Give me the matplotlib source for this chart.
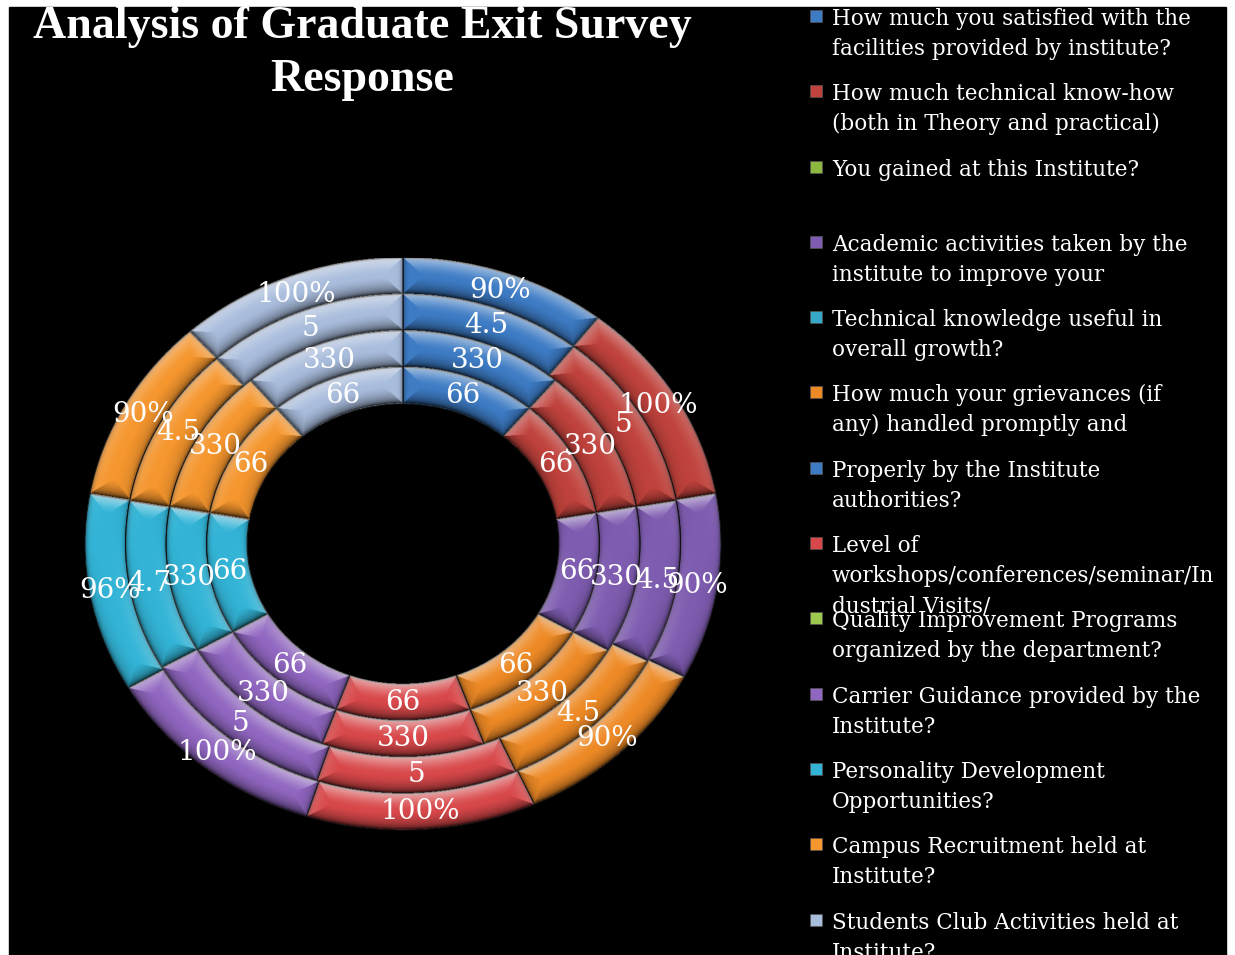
import numpy as np
import matplotlib.pyplot as plt
from matplotlib.patches import Rectangle

# survey questions (legend text, wrapped as printed)
questions = [
    "How much you satisfied with the\nfacilities provided by institute?",
    "How much technical know-how\n(both in Theory and practical)",
    "You gained at this Institute?",
    "Academic activities taken by the\ninstitute to improve your",
    "Technical knowledge useful in\noverall growth?",
    "How much your grievances (if\nany) handled promptly and",
    "Properly by the Institute\nauthorities?",
    "Level of\nworkshops/conferences/seminar/In\ndustrial Visits/",
    "Quality Improvement Programs\norganized by the department?",
    "Carrier Guidance provided by the\nInstitute?",
    "Personality Development\nOpportunities?",
    "Campus Recruitment held at\nInstitute?",
    "Students Club Activities held at\nInstitute?",
]

# one ring per series, outermost first
pct_score = [90, 100, 0, 90, 0, 90, 0, 100, 0, 100, 96, 90, 100]
avg_score = [4.5, 5, 0, 4.5, 0, 4.5, 0, 5, 0, 5, 4.7, 4.5, 5]
responses = [330, 330, 0, 330, 0, 330, 0, 330, 0, 330, 330, 330, 330]
students = [66, 66, 0, 66, 0, 66, 0, 66, 0, 66, 66, 66, 66]

colors = ['#3d7bc4', '#c0423c', '#8cb840', '#7e5cb0', '#38a8c8', '#ee8a26',
          '#3d7bc4', '#d8484a', '#9cc850', '#9066c0', '#33b4d6', '#f5962e',
          '#a8bcdc']

W, H = 1235, 955
fig = plt.figure(figsize=(W / 100, H / 100), dpi=100, facecolor='white')
fig.add_artist(Rectangle((9 / W, 0), (1226 - 9) / W, (H - 7) / H,
                         transform=fig.transFigure, color='black', zorder=0))

# doughnut is slightly wider than tall
cx, cy, rx, ry = 403, 544, 318, 286
ax = fig.add_axes([(cx - rx) / W, (H - cy - ry) / H, 2 * rx / W, 2 * ry / H])

rings = [pct_score, avg_score, responses, students]
hole = 0.49
ring_w = (1 - hole) / len(rings)
half = ring_w / 2

bounds = []
for i, vals in enumerate(rings):
    radius = 1 - i * ring_w
    wedges, _ = ax.pie(vals, radius=radius, colors=colors, startangle=90,
                       counterclock=False,
                       wedgeprops=dict(width=ring_w, edgecolor='#151515',
                                       linewidth=0.7))
    bounds.append(np.array([w.theta1 for w, v in zip(wedges, vals) if v]))
    for w, v in zip(wedges, vals):
        if v == 0:
            continue
        mid = np.deg2rad((w.theta1 + w.theta2) / 2)
        r = w.r - half
        txt = f"{v}%" if i == 0 else f"{v:g}"
        ax.text(r * np.cos(mid), r * np.sin(mid), txt, ha='center',
                va='center', color='white', fontsize=20,
                family='DejaVu Serif', zorder=5)

# soft round bevel on every segment, lit from above
gx, gy = np.meshgrid(np.linspace(-1, 1, 1000), np.linspace(-1, 1, 1000))
rr = np.hypot(gx, gy) + 1e-9
phi = np.degrees(np.arctan2(gy, gx)) % 360
pos = (rr - hole) / ring_w
inside = (pos >= 0) & (pos < len(rings))
k = np.clip(np.floor(pos), 0, len(rings) - 1).astype(int)
s = 2 * (pos - np.floor(pos)) - 1

dr = (1 - np.abs(s)) * half
dir_r = np.sign(s) * gy / rr

dt = np.full(gx.shape, 9.0)
dir_t = np.zeros(gx.shape)
for i, b in enumerate(bounds):
    m = inside & (len(rings) - 1 - k == i)
    delta = (b[None, :] - phi[m][:, None] + 180) % 360 - 180
    j = np.argmin(np.abs(delta), axis=1)
    sd = delta[np.arange(len(j)), j]
    dt[m] = rr[m] * np.abs(np.deg2rad(sd))
    dir_t[m] = np.sign(sd) * np.cos(np.deg2rad(phi[m]))

use_t = dt < dr
d = np.where(use_t, dt, dr)
u = np.clip(d / half, 0, 1)
tilt = (1 - u) ** 1.6
light = tilt * np.where(use_t, dir_t, dir_r)
groove = (1 - u) ** 10

hi = np.zeros(gx.shape + (4,))
hi[..., :3] = 1
hi[..., 3] = np.where(inside, np.clip(light, 0, None) * 0.6, 0)
lo = np.zeros(gx.shape + (4,))
lo[..., 3] = np.where(inside, np.clip(np.clip(-light, 0, None) * 0.5
                                      + groove * 0.45, 0, 0.85), 0)
for layer in (lo, hi):
    ax.imshow(layer, extent=(-1, 1, -1, 1), origin='lower', aspect='auto',
              zorder=3, interpolation='bilinear')

ax.set_aspect('auto')
ax.set_xlim(-1, 1)
ax.set_ylim(-1, 1)
ax.set_axis_off()

fig.text(362 / W, 1 - 38 / H, "Analysis of Graduate Exit Survey", ha='center',
         va='baseline', color='white', fontsize=33, fontweight='bold',
         family='Liberation Serif')
fig.text(362 / W, 1 - 91 / H, "Response", ha='center', va='baseline',
         color='white', fontsize=33, fontweight='bold',
         family='Liberation Serif')

# legend, one slot per question
for n, (q, c) in enumerate(zip(questions, colors)):
    base = 25 + 75.3 * n
    fig.add_artist(Rectangle((810 / W, 1 - (base - 3) / H), 12 / W, 12 / H,
                             transform=fig.transFigure, facecolor=c,
                             edgecolor='#555555', linewidth=0.5, zorder=2))
    for j, line in enumerate(q.split("\n")):
        fig.text(832 / W, 1 - (base + 30 * j) / H, line, ha='left',
                 va='baseline', color='white', fontsize=15.5,
                 family='DejaVu Serif', zorder=2)

fig.savefig('out.png', dpi=100, facecolor=fig.get_facecolor())
